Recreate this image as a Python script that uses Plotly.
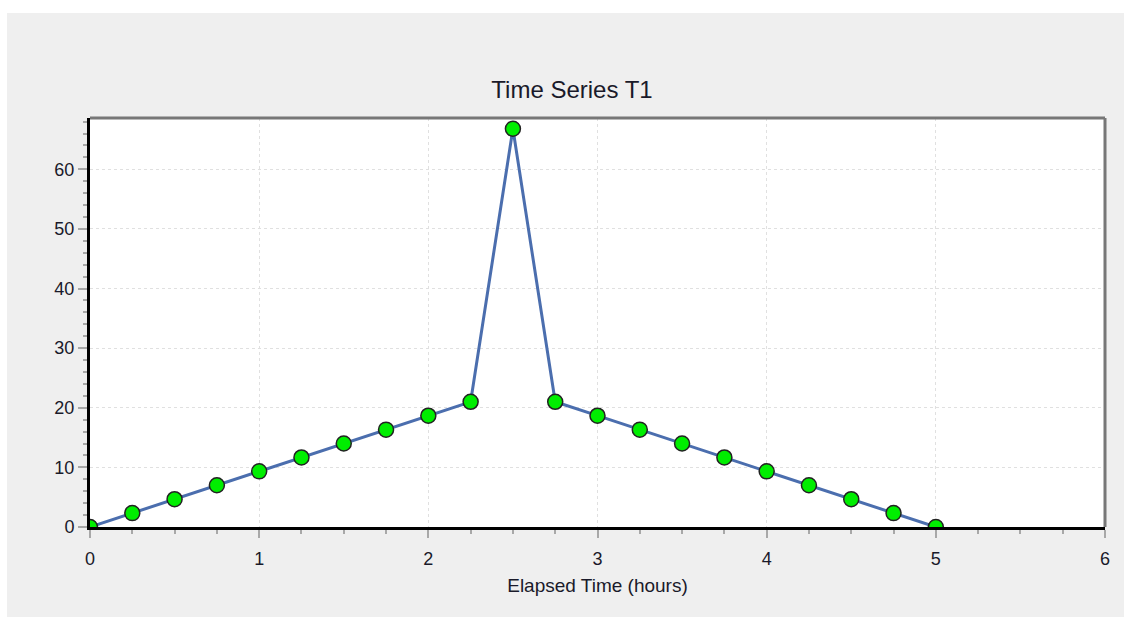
import plotly.graph_objects as go

elapsed_hours = [0, 0.25, 0.5, 0.75, 1, 1.25, 1.5, 1.75, 2, 2.25, 2.5,
                 2.75, 3, 3.25, 3.5, 3.75, 4, 4.25, 4.5, 4.75, 5]
series_t1 = [0, 2.33, 4.67, 7.0, 9.33, 11.67, 14.0, 16.33, 18.67, 21.0, 66.8,
             21.0, 18.67, 16.33, 14.0, 11.67, 9.33, 7.0, 4.67, 2.33, 0]
x_ticks = [0, 1, 2, 3, 4, 5, 6]
y_ticks = [0, 10, 20, 30, 40, 50, 60]

W, H = 1124, 617
ML, MR, MT, MB = 90, 19, 118, 90
PW, PH = W - ML - MR, H - MT - MB

def px_x(p):
    return (p - ML) / PW

def px_y(p):
    return (H - MB - p) / PH

FONT = "Liberation Sans, Arial, sans-serif"
TXT = "#1a1a2a"

fig = go.Figure()
fig.add_trace(go.Scatter(
    x=elapsed_hours, y=series_t1, mode="lines+markers",
    line=dict(color="#4b6eae", width=3),
    marker=dict(size=15, color="#00ee00", line=dict(color="#222222", width=1.5)),
    showlegend=False,
))

fig.update_layout(
    width=W, height=H,
    margin=dict(l=ML, r=MR, t=MT, b=MB),
    paper_bgcolor="#efefef",
    plot_bgcolor="white",
    title=dict(text="Time Series T1", x=572 / W, xref="container", xanchor="center",
               y=1 - 90 / H, yref="container", yanchor="middle",
               font=dict(family=FONT, size=24, color=TXT)),
    font=dict(family=FONT, color=TXT),
    xaxis=dict(
        range=[0, 6], tickvals=x_ticks, ticktext=[str(v) for v in x_ticks],
        showline=True, linecolor="black", linewidth=3,
        ticks="outside", ticklen=8, tickwidth=2, tickcolor="#a8a8a8",
        tickfont=dict(size=18), ticklabelstandoff=5,
        showgrid=True, gridcolor="#e0e0e0", griddash="dot", gridwidth=1,
        zeroline=False,
        minor=dict(dtick=0.25, ticks="outside", ticklen=4, tickcolor="#a8a8a8",
                   tickwidth=2, showgrid=False),
        title=dict(text="Elapsed Time (hours)", font=dict(size=19), standoff=12),
    ),
    yaxis=dict(
        range=[0, 68.6], tickvals=y_ticks, ticktext=[str(v) for v in y_ticks],
        showline=True, linecolor="black", linewidth=3,
        ticks="outside", ticklen=9, tickwidth=2, tickcolor="#a8a8a8",
        tickfont=dict(size=18),
        showgrid=True, gridcolor="#e0e0e0", griddash="dot", gridwidth=1,
        zeroline=False,
        minor=dict(dtick=2, ticks="outside", ticklen=4, tickcolor="#a8a8a8",
                   tickwidth=2, showgrid=False),
    ),
    shapes=[
        # top & right frame lines in grey
        dict(type="line", xref="paper", yref="paper", x0=0, x1=1, y0=1, y1=1,
             line=dict(color="#777777", width=3), layer="above"),
        dict(type="line", xref="paper", yref="paper", x0=1, x1=1, y0=0, y1=1,
             line=dict(color="#777777", width=3), layer="above"),
        # white outer strips (top and left of the grey panel)
        dict(type="rect", xref="paper", yref="paper", x0=px_x(-5), x1=px_x(W + 5),
             y0=px_y(13), y1=px_y(-5), fillcolor="white", line=dict(width=0), layer="below"),
        dict(type="rect", xref="paper", yref="paper", x0=px_x(-5), x1=px_x(7),
             y0=px_y(H + 5), y1=px_y(-5), fillcolor="white", line=dict(width=0), layer="below"),
    ],
)

fig.write_html(
    "out.html",
    config={"displayModeBar": False},
    post_script="document.body.style.margin='0';"
                "document.documentElement.style.overflow='hidden';"
                "document.body.style.overflow='hidden';",
)
